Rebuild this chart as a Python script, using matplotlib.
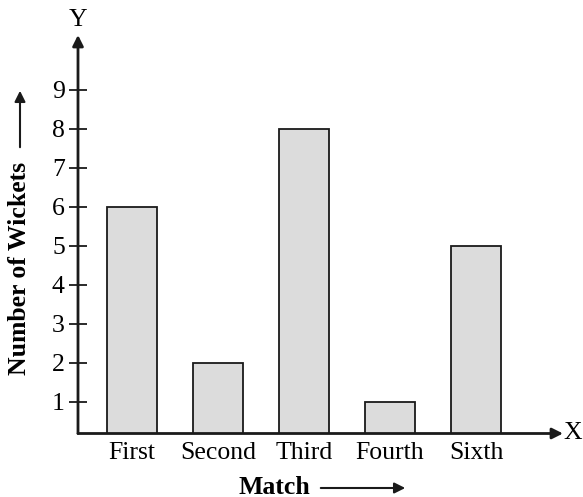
import matplotlib
matplotlib.use("Agg")
import matplotlib.pyplot as plt

matches = ["First", "Second", "Third", "Fourth", "Sixth"]
wickets = [6, 2, 8, 1, 5]
yticks = [1, 2, 3, 4, 5, 6, 7, 8, 9]

plt.rcParams['font.family'] = ['Liberation Serif', 'DejaVu Serif']
FS = 18.5

W, H = 583, 497
fig = plt.figure(figsize=(W / 100, H / 100), dpi=100)
ax = fig.add_axes([78 / W, 63.5 / H, (563 - 78) / W, (462 - 63.5) / H])

x = list(range(len(matches)))
ax.bar(x, wickets, width=0.59, color='#dcdcdc', edgecolor='#1a1a1a', linewidth=1.3, zorder=2)

ax.set_xlim(-0.628, 5.01)
ax.set_ylim(0.18, 10.4)

for s in ax.spines.values():
    s.set_visible(False)

ax.set_xticks(x)
ax.set_xticklabels(matches, fontsize=FS)
ax.tick_params(axis='x', length=0, pad=6)
ax.set_yticks(yticks)
ax.set_yticklabels([str(v) for v in yticks], fontsize=FS)
ax.tick_params(axis='y', direction='inout', length=13, width=1.3, pad=3, color='#1a1a1a')

# axes with arrows
ax.annotate('', xy=(0, 1), xycoords='axes fraction', xytext=(0, 0),
            arrowprops=dict(arrowstyle='-|>', color='#1a1a1a', lw=2, mutation_scale=16, shrinkA=0, shrinkB=0))
ax.annotate('', xy=(1, 0), xycoords='axes fraction', xytext=(0, 0),
            arrowprops=dict(arrowstyle='-|>', color='#1a1a1a', lw=2, mutation_scale=16, shrinkA=0, shrinkB=0))

fig.text(78 / W, 1 - 20 / H, 'Y', fontsize=FS, ha='center', va='center')
fig.text(573 / W, 1 - 433 / H, 'X', fontsize=FS, ha='center', va='center')

# y label with arrow
fig.text(20 / W, 1 - 268 / H, 'Number of Wickets', fontsize=FS, fontweight='bold',
         rotation=90, ha='center', va='center')
fig.add_artist(matplotlib.patches.FancyArrowPatch((20 / W, 1 - 150 / H), (20 / W, 1 - 88 / H),
               transform=fig.transFigure, arrowstyle='-|>', mutation_scale=16, lw=1.5, color='#1a1a1a'))

# x label with arrow
fig.text(274 / W, 1 - 487 / H, 'Match', fontsize=FS, fontweight='bold', ha='center', va='center')
fig.add_artist(matplotlib.patches.FancyArrowPatch((318 / W, 1 - 488 / H), (408 / W, 1 - 488 / H),
               transform=fig.transFigure, arrowstyle='-|>', mutation_scale=16, lw=1.5, color='#1a1a1a'))

fig.savefig('out.png', dpi=100)
